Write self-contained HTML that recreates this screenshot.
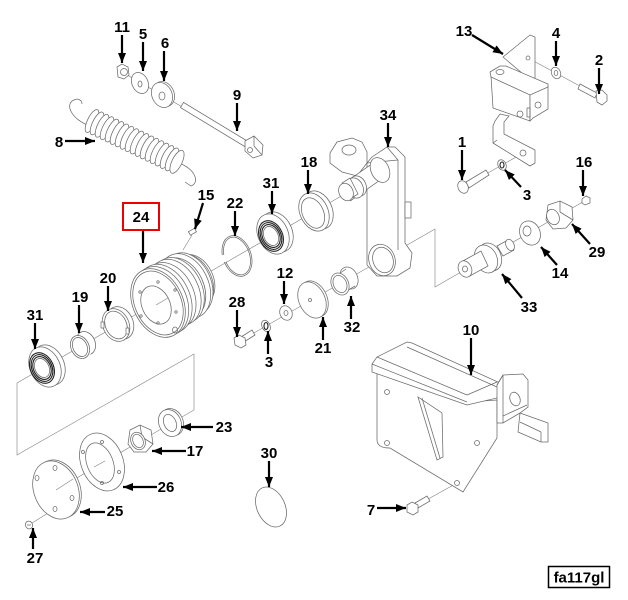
<!DOCTYPE html>
<html><head><meta charset="utf-8"><style>
html,body{margin:0;padding:0;background:#fff;}
svg{display:block;}
.p{fill:#fff;stroke:#6a6a6a;stroke-width:0.75;}
.n{fill:none;stroke:#6a6a6a;stroke-width:0.75;}
.d{fill:none;stroke:#222;stroke-width:1.1;}
.l{fill:none;stroke:#808080;stroke-width:0.6;}
.a{stroke:#000;stroke-width:2.2;fill:none;marker-end:url(#ah);}
text{font-family:"Liberation Sans",Arial,sans-serif;font-weight:bold;font-size:15px;fill:#000;text-anchor:middle;}
</style></head><body>
<svg width="628" height="600" viewBox="0 0 628 600" xmlns="http://www.w3.org/2000/svg">
<defs>
<marker id="ah" viewBox="0 0 10 8" refX="10" refY="4" markerWidth="10" markerHeight="8" markerUnits="userSpaceOnUse" orient="auto"><path d="M0,0L10,4L0,8z" fill="#000"/></marker>
</defs>

<!-- axis / phantom lines -->
<line class="l" x1="17" y1="383" x2="350" y2="191"/>
<polyline class="l" points="17,383 17,455 194,354 194,410 56,490"/>
<line class="l" x1="29" y1="525" x2="56" y2="508"/>
<polyline class="l" points="240,341 435,229 435,287 588,199"/>
<line class="l" x1="122" y1="72" x2="253" y2="148"/>
<line class="l" x1="528" y1="58" x2="602" y2="98"/>
<line class="l" x1="463" y1="187" x2="525" y2="152"/>
<line class="l" x1="412" y1="508" x2="457" y2="483"/>
<line class="l" x1="183" y1="250" x2="192" y2="235"/>

<!-- Spring 8 -->
<path class="n" d="M90,126 C72,120 64,104 74,100 C78,98 82,100 82,104"/>
<path class="n" d="M176,162 C196,168 200,183 191,186 L185,182"/>
<g>
<ellipse class="p" cx="92" cy="121" rx="4.5" ry="12.5" transform="rotate(26 92 121)"/>
<ellipse class="p" cx="97" cy="123.4" rx="4.5" ry="12.5" transform="rotate(26 97 123.4)"/>
<ellipse class="p" cx="102" cy="125.8" rx="4.5" ry="12.5" transform="rotate(26 102 125.8)"/>
<ellipse class="p" cx="107" cy="128.2" rx="4.5" ry="12.5" transform="rotate(26 107 128.2)"/>
<ellipse class="p" cx="112" cy="130.6" rx="4.5" ry="12.5" transform="rotate(26 112 130.6)"/>
<ellipse class="p" cx="117" cy="133" rx="4.5" ry="12.5" transform="rotate(26 117 133)"/>
<ellipse class="p" cx="122" cy="135.4" rx="4.5" ry="12.5" transform="rotate(26 122 135.4)"/>
<ellipse class="p" cx="127" cy="137.8" rx="4.5" ry="12.5" transform="rotate(26 127 137.8)"/>
<ellipse class="p" cx="132" cy="140.2" rx="4.5" ry="12.5" transform="rotate(26 132 140.2)"/>
<ellipse class="p" cx="137" cy="142.6" rx="4.5" ry="12.5" transform="rotate(26 137 142.6)"/>
<ellipse class="p" cx="142" cy="145" rx="4.5" ry="12.5" transform="rotate(26 142 145)"/>
<ellipse class="p" cx="147" cy="147.4" rx="4.5" ry="12.5" transform="rotate(26 147 147.4)"/>
<ellipse class="p" cx="152" cy="149.8" rx="4.5" ry="12.5" transform="rotate(26 152 149.8)"/>
<ellipse class="p" cx="157" cy="152.2" rx="4.5" ry="12.5" transform="rotate(26 157 152.2)"/>
<ellipse class="p" cx="162" cy="154.6" rx="4.5" ry="12.5" transform="rotate(26 162 154.6)"/>
<ellipse class="p" cx="167" cy="157" rx="4.5" ry="12.5" transform="rotate(26 167 157)"/>
<ellipse class="p" cx="172" cy="159.4" rx="4.5" ry="12.5" transform="rotate(26 172 159.4)"/>
<ellipse class="p" cx="177" cy="161.8" rx="5" ry="12.5" transform="rotate(26 177 161.8)"/>
</g>

<!-- 11 nut, 5, 6 washers, 9 bolt -->
<polygon class="p" points="117,67 122,64 128,67 129,75 124,79 118,77"/>
<circle class="n" cx="124" cy="72" r="3.5"/>
<ellipse class="p" cx="140" cy="83" rx="8" ry="11" transform="rotate(-25 140 83)"/>
<ellipse class="n" cx="140" cy="84" rx="2" ry="3"/>
<ellipse class="p" cx="164" cy="94" rx="10" ry="13" transform="rotate(-25 164 94)"/>
<ellipse class="p" cx="162" cy="95" rx="10" ry="13" transform="rotate(-25 162 95)"/>
<ellipse class="n" cx="162" cy="96" rx="3" ry="4"/>
<polygon class="p" points="180.5,107.6 246.5,147.6 249.5,142.4 183.5,102.4"/>
<polygon class="p" points="245,141 254,136 263,145 262,155 253,158 245,151"/>
<line class="n" x1="254" y1="136" x2="254" y2="146"/>
<line class="n" x1="254" y1="146" x2="262" y2="155"/>
<circle class="n" cx="250" cy="150" r="2.5"/>

<!-- Bracket 13 -->
<polygon class="p" points="503,57 530,35 535,37 535,84"/>
<polygon class="p" points="491,76 530,94 530,121 493,108"/>
<polygon class="p" points="530,94 548,86 548,109 533,118 530,121"/>
<polygon class="p" points="490,72 500,66 506,66 548,84 548,87 530,95 491,77"/>
<ellipse class="n" cx="500" cy="72" rx="4" ry="2.5"/>
<circle class="n" cx="528" cy="58" r="2"/>
<circle class="n" cx="520" cy="114" r="3"/>
<circle class="n" cx="538" cy="105" r="3"/>
<rect class="n" x="527" y="108" width="3" height="9"/>
<path class="p" d="M500,114 L495,121 L493,126 L493,143 L530,166 L535,163 L535,150 L504,134 L504,122 L509,116 Z"/>
<line class="n" x1="493" y1="143" x2="497" y2="140"/>
<circle class="n" cx="523" cy="153" r="3"/>

<!-- 4 washer, 2 bolt -->
<ellipse class="p" cx="556" cy="73" rx="4.5" ry="6" transform="rotate(-25 556 73)"/>
<ellipse class="n" cx="556" cy="73" rx="1.8" ry="2.5"/>
<polygon class="p" points="580,84 597,93 595,98 578,89"/>
<polygon class="p" points="596,91 602,90 607,95 607,101 602,105 597,102"/>

<!-- 1 bolt, 3 lockwasher -->
<polygon class="p" points="466,182 486,170 489,175 469,188"/>
<ellipse class="p" cx="463" cy="187" rx="5" ry="6.5" transform="rotate(-25 463 187)"/>
<ellipse class="p" cx="502" cy="165" rx="4" ry="5.5" transform="rotate(-25 502 165)"/>
<ellipse class="d" cx="502" cy="165" rx="2" ry="3"/>

<!-- Part 34 -->
<polygon class="p" points="330,163 330,153 337,142 352,138 362,142 367,152 367,163 357,176 342,172"/>
<ellipse class="n" cx="349" cy="150" rx="7" ry="5"/>
<polygon class="p" points="367,163 372,157 387,147 395,147 405,157 405,243 412,253 410,268 397,276 377,276 367,265"/>
<line class="n" x1="387" y1="147" x2="398" y2="160"/>
<line class="n" x1="398" y1="160" x2="398" y2="250"/>
<line class="n" x1="367" y1="163" x2="398" y2="160"/>
<rect class="p" x="405" y="202" width="6" height="16"/>
<ellipse class="p" cx="382" cy="260" rx="13" ry="16" transform="rotate(-20 382 260)"/>
<ellipse class="n" cx="383" cy="260" rx="10" ry="13" transform="rotate(-20 383 260)"/>
<polygon class="p" points="350.5,200.8 387.5,174.8 378.5,159.2 341.5,185.2"/>
<ellipse class="p" cx="380" cy="170" rx="9" ry="13" transform="rotate(-25 380 170)"/>
<ellipse class="p" cx="358" cy="186" rx="8" ry="10.5" transform="rotate(-25 358 186)"/>
<ellipse class="p" cx="355" cy="188" rx="8" ry="10.5" transform="rotate(-25 355 188)"/>
<polygon class="p" points="350,199 358,194 350,178 342,183"/>
<ellipse class="p" cx="346" cy="192" rx="7" ry="9" transform="rotate(-25 346 192)"/>

<!-- 18 ring -->
<ellipse class="p" cx="318" cy="210" rx="14" ry="20" transform="rotate(-25 318 210)"/>
<ellipse class="p" cx="314" cy="212" rx="14" ry="20" transform="rotate(-25 314 212)"/>
<ellipse class="n" cx="313" cy="213" rx="10.5" ry="16" transform="rotate(-25 313 213)"/>

<!-- 31 upper bearing -->
<ellipse class="p" cx="277" cy="232" rx="15" ry="21" transform="rotate(-25 277 232)"/>
<ellipse class="p" cx="273" cy="234" rx="15" ry="21" transform="rotate(-25 273 234)"/>
<ellipse class="d" cx="271" cy="236" rx="11.5" ry="16" transform="rotate(-25 271 236)"/>
<ellipse class="d" cx="271" cy="236" rx="10" ry="14" transform="rotate(-25 271 236)"/>
<ellipse class="d" cx="271" cy="236" rx="8.5" ry="12" transform="rotate(-25 271 236)"/>
<ellipse class="n" cx="271" cy="236" rx="7" ry="10" transform="rotate(-25 271 236)"/>

<!-- 22 snap ring -->
<ellipse class="n" cx="237" cy="256" rx="14" ry="21" transform="rotate(-20 237 256)"/>
<ellipse class="n" cx="237" cy="256" rx="12.5" ry="19.5" transform="rotate(-20 237 256)"/>
<rect x="220" y="255" width="6" height="7" fill="#fff"/>

<!-- 15 key -->
<rect class="p" x="189" y="230" width="7" height="4" transform="rotate(-30 192 232)"/>

<!-- Pulley 24 -->
<ellipse class="p" cx="195.2" cy="279.5" rx="18" ry="26" transform="rotate(-25 195.2 279.5)"/>
<ellipse class="p" cx="191.8" cy="281.6" rx="20" ry="28.8" transform="rotate(-25 191.8 281.6)"/>
<ellipse class="p" cx="188.4" cy="283.7" rx="22.5" ry="32.4" transform="rotate(-25 188.4 283.7)"/>
<ellipse class="p" cx="185" cy="285.9" rx="23.5" ry="33.8" transform="rotate(-25 185 285.9)"/>
<ellipse class="p" cx="181.7" cy="288" rx="22" ry="31.7" transform="rotate(-25 181.7 288)"/>
<ellipse class="p" cx="178.3" cy="290.2" rx="23.8" ry="34.2" transform="rotate(-25 178.3 290.2)"/>
<ellipse class="p" cx="174.9" cy="292.3" rx="24" ry="34.6" transform="rotate(-25 174.9 292.3)"/>
<ellipse class="p" cx="169.8" cy="295.5" rx="24" ry="34.6" transform="rotate(-25 169.8 295.5)"/>
<ellipse class="p" cx="164.8" cy="298.7" rx="25" ry="36" transform="rotate(-25 164.8 298.7)"/>
<ellipse class="p" cx="161.4" cy="300.9" rx="25" ry="36" transform="rotate(-25 161.4 300.9)"/>
<ellipse class="p" cx="158" cy="303" rx="25" ry="36" transform="rotate(-25 158 303)"/>
<ellipse class="n" cx="158" cy="303" rx="23" ry="33.5" transform="rotate(-25 158 303)"/>
<ellipse class="n" cx="156" cy="305" rx="14" ry="20" transform="rotate(-25 156 305)"/>
<circle class="n" cx="158" cy="282" r="1.2"/>
<circle class="n" cx="140" cy="292" r="1.2"/>
<circle class="n" cx="141" cy="316" r="1.2"/>
<circle class="n" cx="158" cy="323" r="1.2"/>
<circle class="n" cx="176" cy="312" r="1.2"/>
<circle class="n" cx="175" cy="290" r="1.2"/>
<ellipse class="n" cx="175" cy="330" rx="2.5" ry="3"/>
<line class="l" x1="156" y1="305" x2="168" y2="298"/>

<!-- 20 ring -->
<ellipse class="p" cx="120" cy="323" rx="13" ry="17" transform="rotate(-25 120 323)"/>
<ellipse class="p" cx="116" cy="325" rx="13" ry="17" transform="rotate(-25 116 325)"/>
<ellipse class="n" cx="116" cy="325" rx="10.5" ry="14.5" transform="rotate(-25 116 325)"/>
<rect x="101" y="322" width="3" height="6" fill="#fff" stroke="#6a6a6a" stroke-width="0.7"/>
<rect x="126" y="328" width="3" height="6" fill="#fff" stroke="#6a6a6a" stroke-width="0.7"/>

<!-- 19 ring -->
<ellipse class="p" cx="86" cy="343" rx="9" ry="12" transform="rotate(-25 86 343)"/>
<polygon points="73,344 82,339 91,354 81,358" fill="#fff"/>
<ellipse class="p" cx="80" cy="347" rx="9" ry="12" transform="rotate(-25 80 347)"/>
<ellipse class="n" cx="80" cy="347" rx="7" ry="10" transform="rotate(-25 80 347)"/>

<!-- 31 lower bearing -->
<ellipse class="p" cx="49" cy="365" rx="15" ry="21" transform="rotate(-25 49 365)"/>
<ellipse class="p" cx="45" cy="367" rx="15" ry="21" transform="rotate(-25 45 367)"/>
<ellipse class="d" cx="42" cy="368" rx="11.5" ry="16" transform="rotate(-25 42 368)"/>
<ellipse class="d" cx="42" cy="368" rx="10" ry="14" transform="rotate(-25 42 368)"/>
<ellipse class="d" cx="42" cy="368" rx="8.5" ry="12" transform="rotate(-25 42 368)"/>
<ellipse class="n" cx="42" cy="368" rx="7" ry="10" transform="rotate(-25 42 368)"/>

<!-- 28 bolt, 3 lockwasher, 12 washer, 21 disc, 32 bushing -->
<polygon class="p" points="241,337 252,330 255,335 244,342"/>
<polygon class="p" points="234,338 239,335 245,338 246,345 241,348 235,345"/>
<ellipse class="p" cx="266" cy="326" rx="4" ry="6" transform="rotate(-25 266 326)"/>
<ellipse class="d" cx="266" cy="326" rx="2" ry="3.5"/>
<ellipse class="p" cx="286" cy="313" rx="6" ry="7.5" transform="rotate(-25 286 313)"/>
<ellipse class="n" cx="286" cy="313" rx="2" ry="2.5"/>
<ellipse class="p" cx="314" cy="299" rx="13" ry="19" transform="rotate(-25 314 299)"/>
<ellipse class="p" cx="312" cy="300" rx="13" ry="19" transform="rotate(-25 312 300)"/>
<circle class="n" cx="310" cy="300" r="1.5"/>
<ellipse class="p" cx="349" cy="278" rx="8.5" ry="11.5" transform="rotate(-25 349 278)"/>
<polygon points="334,281 345,270 354,285 346,293" fill="#fff"/>
<line class="n" x1="336" y1="276" x2="346" y2="269"/>
<line class="n" x1="345" y1="292" x2="355" y2="286"/>
<ellipse class="p" cx="340" cy="284" rx="8.5" ry="11.5" transform="rotate(-25 340 284)"/>
<ellipse class="n" cx="340" cy="284" rx="6.5" ry="9" transform="rotate(-25 340 284)"/>

<!-- 33 bushing, 14 washer, 29 nut, 16 fitting -->
<polygon class="p" points="497,246 508,240 514,250 503,256"/>
<ellipse class="p" cx="510" cy="245" rx="4" ry="6" transform="rotate(-25 510 245)"/>
<ellipse class="p" cx="490" cy="257" rx="11" ry="14.5" transform="rotate(-25 490 257)"/>
<ellipse class="p" cx="486" cy="259" rx="11" ry="14.5" transform="rotate(-25 486 259)"/>
<polygon class="p" points="461,262 481,251 488,266 468,277"/>
<ellipse class="p" cx="465" cy="269" rx="6.5" ry="8.5" transform="rotate(-25 465 269)"/>
<ellipse class="n" cx="465" cy="269" rx="2.5" ry="3"/>
<ellipse class="p" cx="530" cy="233" rx="10" ry="12.5" transform="rotate(-25 530 233)"/>
<ellipse class="n" cx="527" cy="231" rx="4" ry="5"/>
<polygon class="p" points="548,205 560,201 572,207 573,220 566,228 553,229 546,220"/>
<line class="n" x1="560" y1="201" x2="560" y2="212"/>
<line class="n" x1="560" y1="212" x2="573" y2="220"/>
<ellipse class="p" cx="553" cy="217" rx="6" ry="8" transform="rotate(-25 553 217)"/>
<polygon class="p" points="582,199 586,196 590,198 590,203 585,205 582,203"/>

<!-- Bracket 10 -->
<path class="p" d="M377,372 L377,440 Q377,448 390,448 L463,492 L497,438 L497,400 L467,402 L377,372 Z"/>
<polygon class="p" points="418,397 437,460 443,457 442,413"/>
<line class="n" x1="422" y1="398" x2="440" y2="458"/>
<polygon class="p" points="372,364 377,357 407,342 412,343 500,383 497,398 467,405 372,372"/>
<line class="n" x1="377" y1="357" x2="467" y2="395"/>
<line class="n" x1="467" y1="395" x2="497" y2="382"/>
<line class="n" x1="372" y1="364" x2="467" y2="402"/>
<line class="n" x1="407" y1="347" x2="497" y2="387"/>
<circle class="n" cx="387" cy="392" r="2.5"/>
<circle class="n" cx="387" cy="443" r="2.5"/>
<circle class="n" cx="477" cy="443" r="2.5"/>
<circle class="n" cx="457" cy="483" r="2.5"/>
<polygon class="p" points="520,413 548,423 548,442 541,442 518,432"/>
<line class="n" x1="541" y1="432" x2="541" y2="442"/>
<line class="n" x1="520" y1="422" x2="541" y2="432"/>
<polygon class="p" points="497,385 503,375 523,374 528,380 528,407 520,413 503,423 497,423"/>
<line class="n" x1="503" y1="375" x2="503" y2="423"/>
<line class="n" x1="503" y1="375" x2="497" y2="385"/>
<ellipse class="n" cx="515" cy="399" rx="5" ry="7" transform="rotate(-20 515 399)"/>
<line class="n" x1="503" y1="416" x2="527" y2="405"/>

<!-- 7 bolt -->
<polygon class="p" points="415,503 427,496 430,501 418,508"/>
<polygon class="p" points="407,505 412,502 418,505 418,512 413,515 407,512"/>

<!-- 23 washer, 17 nut, 26 gasket, 25 plate, 27 screw -->
<ellipse class="p" cx="172" cy="422" rx="11" ry="14" transform="rotate(-25 172 422)"/>
<ellipse class="p" cx="170" cy="423" rx="11" ry="14" transform="rotate(-25 170 423)"/>
<ellipse class="n" cx="170" cy="423" rx="6" ry="9" transform="rotate(-25 170 423)"/>
<polygon class="p" points="130,430 140,425 151,430 153,444 146,452 134,452 128,444"/>
<line class="n" x1="140" y1="425" x2="142" y2="437"/>
<line class="n" x1="142" y1="437" x2="153" y2="444"/>
<ellipse class="p" cx="138" cy="441" rx="7" ry="9" transform="rotate(-25 138 441)"/>
<ellipse class="n" cx="138" cy="441" rx="5" ry="7" transform="rotate(-25 138 441)"/>
<ellipse class="p" cx="102" cy="462" rx="21" ry="30" transform="rotate(-22 102 462)"/>
<ellipse class="n" cx="100" cy="463" rx="13" ry="21" transform="rotate(-22 100 463)"/>
<circle class="n" cx="102" cy="442" r="1.5"/>
<circle class="n" cx="83" cy="452" r="1.5"/>
<circle class="n" cx="119" cy="472" r="1.5"/>
<circle class="n" cx="102" cy="483" r="1.5"/>
<line class="l" x1="94" y1="467" x2="105" y2="461"/>
<ellipse class="p" cx="58" cy="489" rx="22" ry="30" transform="rotate(-22 58 489)"/>
<ellipse class="p" cx="56" cy="490" rx="22" ry="30" transform="rotate(-22 56 490)"/>
<ellipse class="n" cx="55" cy="468" rx="2" ry="2.5"/>
<ellipse class="n" cx="37" cy="478" rx="2" ry="2.5"/>
<ellipse class="n" cx="72" cy="498" rx="2" ry="2.5"/>
<ellipse class="n" cx="55" cy="509" rx="2" ry="2.5"/>
<line class="l" x1="56" y1="490" x2="73" y2="479"/>
<ellipse class="p" cx="29" cy="525" rx="3.5" ry="4" transform="rotate(-25 29 525)"/>
<line class="n" x1="27" y1="525" x2="31" y2="525"/>

<!-- 30 disc -->
<ellipse class="p" cx="271" cy="507" rx="14" ry="21" transform="rotate(-25 271 507)"/>

<!-- Arrows -->
<line class="a" x1="122" y1="35" x2="122" y2="63"/>
<line class="a" x1="143" y1="42" x2="143" y2="71"/>
<line class="a" x1="164" y1="51" x2="164" y2="81"/>
<line class="a" x1="237" y1="103" x2="237" y2="131"/>
<line class="a" x1="65" y1="141" x2="95" y2="141"/>
<line class="a" x1="472" y1="35" x2="503" y2="54"/>
<line class="a" x1="556" y1="41" x2="556" y2="66"/>
<line class="a" x1="599" y1="68" x2="599" y2="94"/>
<line class="a" x1="388" y1="123" x2="388" y2="147"/>
<line class="a" x1="308" y1="170" x2="308" y2="194"/>
<line class="a" x1="462" y1="150" x2="462" y2="180"/>
<line class="a" x1="521" y1="187" x2="505" y2="170"/>
<line class="a" x1="583" y1="170" x2="583" y2="196"/>
<line class="a" x1="272" y1="191" x2="272" y2="214"/>
<line class="a" x1="203" y1="203" x2="195" y2="229"/>
<line class="a" x1="235" y1="211" x2="235" y2="236"/>
<line class="a" x1="143" y1="231" x2="143" y2="263"/>
<line class="a" x1="590" y1="244" x2="572" y2="224"/>
<line class="a" x1="557" y1="265" x2="541" y2="247"/>
<line class="a" x1="284" y1="281" x2="284" y2="304"/>
<line class="a" x1="108" y1="286" x2="108" y2="311"/>
<line class="a" x1="237" y1="310" x2="237" y2="337"/>
<line class="a" x1="79" y1="305" x2="79" y2="333"/>
<line class="a" x1="35" y1="323" x2="35" y2="349"/>
<line class="a" x1="522" y1="298" x2="502" y2="274"/>
<line class="a" x1="323" y1="340" x2="323" y2="317"/>
<line class="a" x1="351" y1="319" x2="351" y2="296"/>
<line class="a" x1="268" y1="354" x2="268" y2="331"/>
<line class="a" x1="471" y1="338" x2="471" y2="375"/>
<line class="a" x1="213" y1="427" x2="181" y2="427"/>
<line class="a" x1="186" y1="451" x2="152" y2="451"/>
<line class="a" x1="157" y1="487" x2="123" y2="487"/>
<line class="a" x1="269" y1="461" x2="269" y2="487"/>
<line class="a" x1="105" y1="512" x2="80" y2="512"/>
<line class="a" x1="377" y1="508" x2="406" y2="508"/>
<line class="a" x1="33" y1="549" x2="33" y2="528"/>

<!-- Labels -->
<text x="122" y="32">11</text>
<text x="143" y="39">5</text>
<text x="165" y="48">6</text>
<text x="237" y="100">9</text>
<text x="59" y="147">8</text>
<text x="464" y="36">13</text>
<text x="556" y="38">4</text>
<text x="599" y="65">2</text>
<text x="388" y="120">34</text>
<text x="309" y="167">18</text>
<text x="462" y="147">1</text>
<text x="527" y="200">3</text>
<text x="584" y="167">16</text>
<text x="271" y="188">31</text>
<text x="206" y="200">15</text>
<text x="235" y="208">22</text>
<rect x="123" y="203" width="36" height="27" fill="none" stroke="#e00" stroke-width="2"/>
<text x="141" y="222">24</text>
<text x="597" y="257">29</text>
<text x="560" y="278">14</text>
<text x="285" y="278">12</text>
<text x="108" y="283">20</text>
<text x="237" y="307">28</text>
<text x="80" y="302">19</text>
<text x="35" y="320">31</text>
<text x="529" y="312">33</text>
<text x="323" y="353">21</text>
<text x="352" y="332">32</text>
<text x="269" y="367">3</text>
<text x="471" y="335">10</text>
<text x="224" y="432">23</text>
<text x="195" y="456">17</text>
<text x="166" y="492">26</text>
<text x="269" y="458">30</text>
<text x="115" y="516">25</text>
<text x="371" y="515">7</text>
<text x="35" y="563">27</text>

<rect x="548.5" y="566.5" width="61" height="21" fill="#fff" stroke="#000" stroke-width="1.5"/>
<text x="579" y="582.5">fa117gl</text>
</svg>
</body></html>
